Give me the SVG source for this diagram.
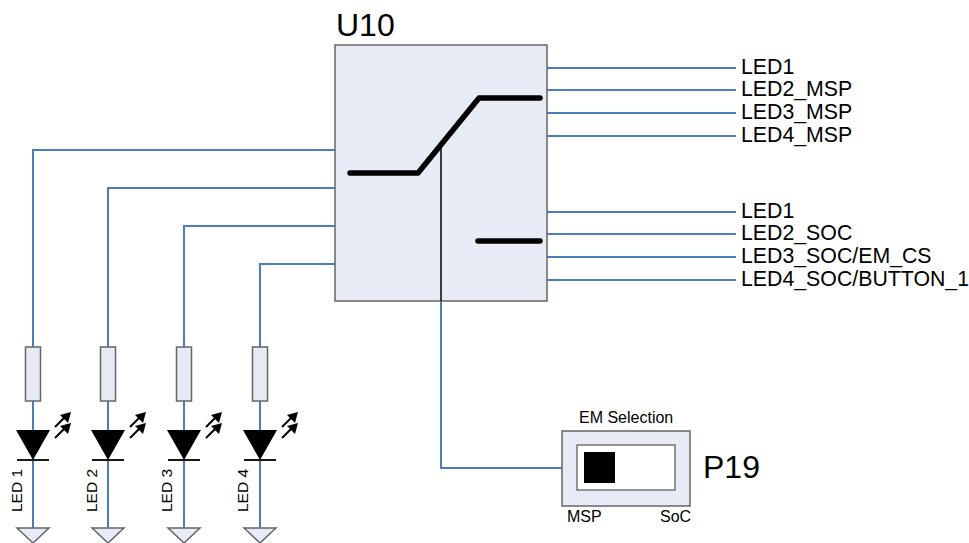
<svg xmlns="http://www.w3.org/2000/svg" width="969" height="543" viewBox="0 0 969 543">
<defs>
<style>
text{font-family:"Liberation Sans",Arial,sans-serif;fill:#000}
.w{fill:none;stroke:#4a7ebb;stroke-width:2}
.box{fill:#e7ebf5;stroke:#666;stroke-width:1.5}
.sw{fill:none;stroke:#000;stroke-width:5.5;stroke-linecap:round;stroke-linejoin:round}
.lab{font-size:21.3px}
.led{font-size:15.5px}
.sm{font-size:16px}
.bar{stroke:#000;stroke-width:1.8;fill:none}
.ray{stroke:#000;stroke-width:2;fill:none}
</style>
<g id="led-sym">
<rect class="box" x="-7.5" y="0" width="15" height="54"/>
<path d="M-17 83H17L0 113Z" fill="#000"/>
<path class="bar" d="M-16 113H16"/>
<path class="ray" d="M22 80L32 70M22 91L32 81"/>
<path d="M38 65L35 76L27 68ZM38 76L35 87L27 79Z" fill="#000"/>
<path class="box" d="M-16 181H16L0 196Z" stroke-width="1.2"/>
</g>
</defs>
<g id="connectors">
<path class="w" d="M335 150H33V347M33 400V430M33 461V528"/>
<path class="w" d="M335 188H108V347M108 400V430M108 461V528"/>
<path class="w" d="M335 226H184V347M184 400V430M184 461V528"/>
<path class="w" d="M335 264H260V347M260 400V430M260 461V528"/>
<path class="w" d="M547 68H736M547 90H736M547 113H736M547 136H736M547 212H736M547 234H736M547 257H736M547 280H736"/>
<path class="w" d="M441 301V468H562"/>
</g>
<g id="U10">
<rect class="box" x="335" y="45" width="212" height="256"/>
<path d="M441 146V301" stroke="#000" stroke-width="1.5" fill="none"/>
<path class="sw" d="M350 173H418L479 98H540"/>
<path class="sw" d="M478 241H540"/>
<text x="336" y="36" font-size="32">U10</text>
</g>
<g id="labels">
<text class="lab" x="741" y="73.5">LED1</text>
<text class="lab" x="741" y="95.5">LED2_MSP</text>
<text class="lab" x="741" y="118.5">LED3_MSP</text>
<text class="lab" x="741" y="141.5">LED4_MSP</text>
<text class="lab" x="741" y="217.5">LED1</text>
<text class="lab" x="741" y="239.5">LED2_SOC</text>
<text class="lab" x="741" y="262.5">LED3_SOC/EM_CS</text>
<text class="lab" x="741" y="285.5">LED4_SOC/BUTTON_1</text>
</g>
<g id="LED1"><use href="#led-sym" x="33" y="347"/><text class="led" transform="translate(22 512) rotate(-90)">LED 1</text></g>
<g id="LED2"><use href="#led-sym" x="108" y="347"/><text class="led" transform="translate(97 512) rotate(-90)">LED 2</text></g>
<g id="LED3"><use href="#led-sym" x="184" y="347"/><text class="led" transform="translate(172 512) rotate(-90)">LED 3</text></g>
<g id="LED4"><use href="#led-sym" x="260" y="347"/><text class="led" transform="translate(248 512) rotate(-90)">LED 4</text></g>
<g id="P19">
<rect class="box" x="562" y="431" width="128" height="75"/>
<rect x="577" y="445" width="98" height="45" fill="#fff" stroke="#555" stroke-width="1.2"/>
<rect x="584" y="452" width="31" height="31" fill="#000"/>
<text class="sm" x="579" y="423">EM Selection</text>
<text class="sm" x="567" y="522">MSP</text>
<text class="sm" x="660" y="522">SoC</text>
<text x="703" y="478" font-size="32">P19</text>
</g>
</svg>
